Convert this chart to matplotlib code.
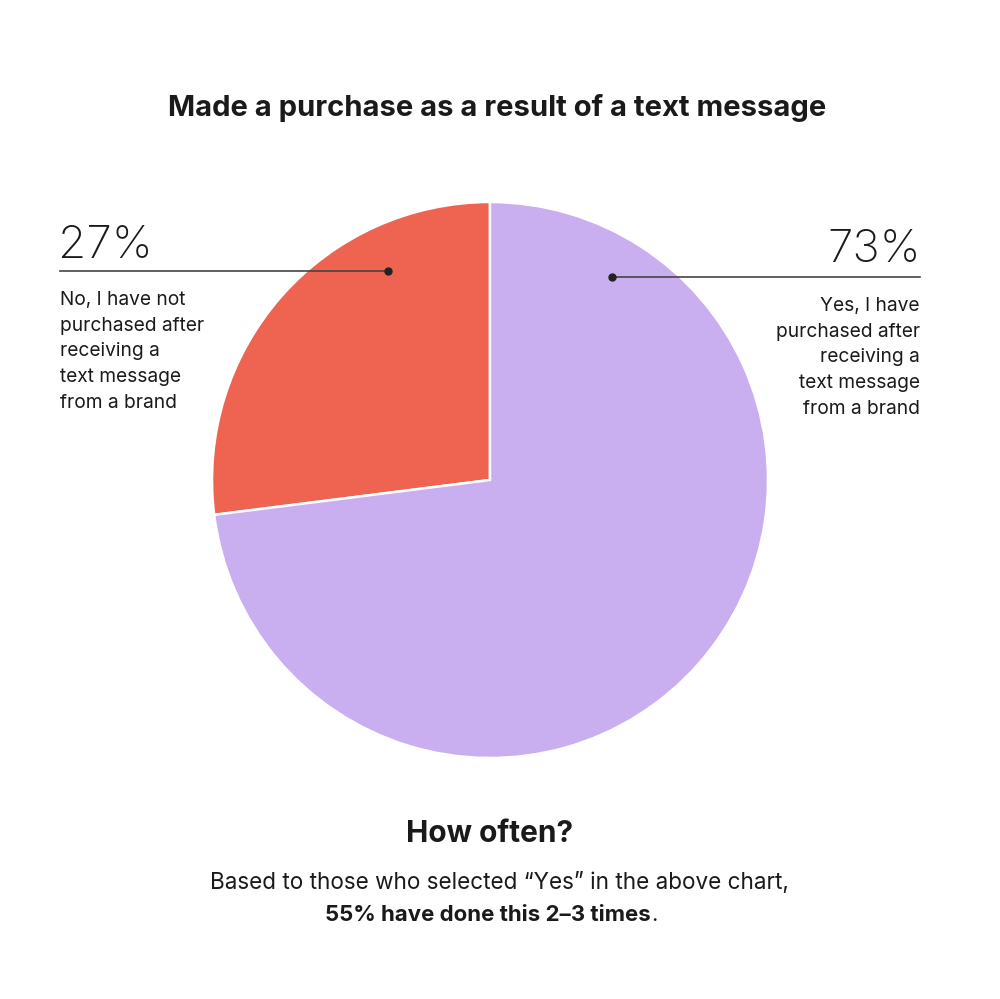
import matplotlib
matplotlib.use("Agg")
import matplotlib.pyplot as plt

# Data
categories = ["No, I have not\npurchased after\nreceiving a\ntext message\nfrom a brand",
              "Yes, I have\npurchased after\nreceiving a\ntext message\nfrom a brand"]
values = [27, 73]
pct_labels = ["27%", "73%"]
colors = ["#EF6351", "#C9AEF0"]

W, H = 1000, 999
fig = plt.figure(figsize=(W / 100, H / 100), dpi=100)
ax = fig.add_axes([0, 0, 1, 1])

def Y(y):
    return H - y

FONT = ["Inter", "Liberation Sans", "DejaVu Sans"]
TXT = "#1a1a1a"

ax.pie(values, colors=colors, startangle=90, counterclock=True,
       center=(490, Y(480)), radius=278, frame=True,
       wedgeprops=dict(edgecolor="white", linewidth=1.8))
ax.set_xlim(0, W)
ax.set_ylim(0, H)
ax.set_aspect("equal")
ax.axis("off")

# Title
ax.text(497, Y(108), "Made a purchase as a result of a text message",
        ha="center", va="center", fontsize=21, fontweight="bold",
        family=FONT, color=TXT)

LBL = 13.8
STEP = 25.7

# Left annotation
ax.text(58, Y(258), pct_labels[0], ha="left", va="baseline", fontsize=33,
        fontweight="light", family=FONT, color=TXT)
ax.plot([60, 388], [Y(271), Y(271)], color="#444444", lw=1.2)
ax.plot([388], [Y(271)], "o", color="#222222", ms=5)
for i, line in enumerate(categories[0].split("\n")):
    ax.text(60, Y(305 + i * STEP), line, ha="left", va="baseline", fontsize=LBL,
            family=FONT, color=TXT)

# Right annotation
ax.text(921, Y(262), pct_labels[1], ha="right", va="baseline", fontsize=33,
        fontweight="light", family=FONT, color=TXT)
ax.plot([612, 920], [Y(277), Y(277)], color="#444444", lw=1.2)
ax.plot([612], [Y(277)], "o", color="#222222", ms=5)
for i, line in enumerate(categories[1].split("\n")):
    ax.text(920, Y(311 + i * STEP), line, ha="right", va="baseline", fontsize=LBL,
            family=FONT, color=TXT)

# Bottom texts
ax.text(490, Y(834), "How often?", ha="center", va="center", fontsize=21.5,
        fontweight="bold", family=FONT, color=TXT)
ax.text(499, Y(883), "Based to those who selected \u201cYes\u201d in the above chart,",
        ha="center", va="center", fontsize=16.2, family=FONT, color=TXT)
ax.text(651, Y(915), "55% have done this 2\u20133 times", ha="right", va="center",
        fontsize=16, fontweight="bold", family=FONT, color=TXT)
ax.text(651, Y(915), ".", ha="left", va="center",
        fontsize=16, family=FONT, color=TXT)

fig.savefig("out.png", dpi=100, facecolor="white")
